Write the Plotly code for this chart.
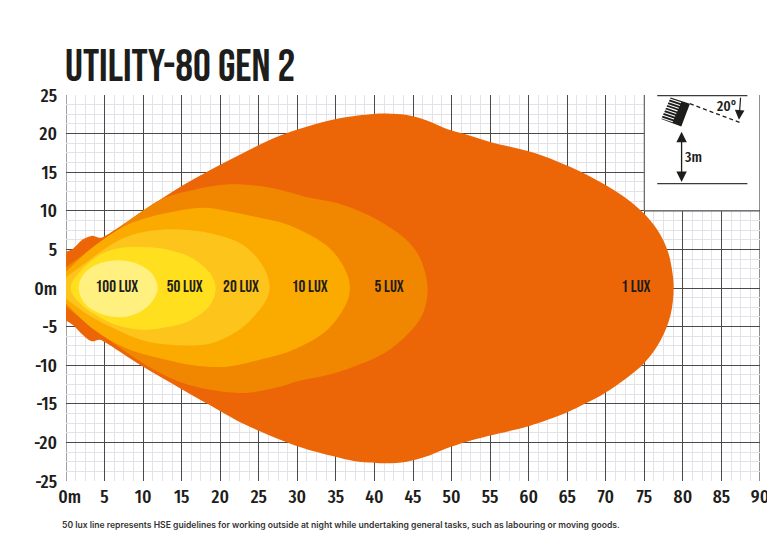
import plotly.graph_objects as go

TITLE = "UTILITY-80 GEN 2"
NOTE = "50 lux line represents HSE guidelines for working outside at night while undertaking general tasks, such as labouring or moving goods."

x_ticks = list(range(0, 95, 5))
x_labels = ["\u00a0\u00a00m"] + [str(v) for v in x_ticks[1:]]
y_ticks = [25, 20, 15, 10, 5, 0, -5, -10, -15, -20, -25]
y_labels = ["25", "20", "15", "10", "5", "0m", "-5", "-10", "-15", "-20", "-25"]

lux1_x = [0, .9, 2.2, 3.3, 4.4, 5, 10, 15, 18.7, 22.6, 26.9, 31.2, 35.5, 39.9, 41.6, 44.2, 46.8, 49.4, 51.5, 55, 60, 63.7, 67.1, 70.2, 72.8, 74.9, 76.7, 78, 78.6, 78.8,
          78.4, 77.1, 74.9, 70.2, 67.1, 65, 60, 55, 51.3, 48.5, 46.8, 44.2, 41.2, 37.3, 35.1, 30, 25, 22.6, 18.7, 15, 10, 5, 4.4, 3.3, 2.2, .9, 0]
lux1_y = [4.7, 5.1, 6.3, 6.75, 6.5, 6.7, 10, 13.2, 15.3, 17.3, 19.4, 20.9, 22, 22.55, 22.6, 22.4, 21.7, 20.6, 20, 18.9, 17.7, 16.4, 14.9, 13.2, 11.5, 9.7, 7.5, 4.9, 2.3, 0,
          -3.5, -6.8, -9.8, -13.4, -15.1, -16.1, -17.9, -19.1, -20.1, -21.1, -21.8, -22.5, -22.7, -22.4, -21.9, -20.5, -18.5, -17.4, -15.2, -13.1, -10.2, -7, -6.7, -6.9, -6.1, -4.8, -4.2]

lux5_x = [0, 5, 12.2, 16.5, 20.8, 25.1, 28.2, 31.2, 35.1, 38.6, 41.6, 44.2, 45.9, 46.9,
          46.2, 44.2, 41.2, 37.3, 33.8, 30.3, 26.9, 22.6, 16.5, 12.2, 5, 0]
lux5_y = [2.7, 6.3, 11.4, 12.7, 13.4, 13.2, 12.6, 11.8, 11, 9.7, 8.1, 6.2, 3.9, 0,
          -3.5, -6.1, -8.5, -10.2, -11.3, -12, -13, -13.6, -12.7, -11, -6.3, -2.4]

lux10_x = [0, 3.5, 7.8, 13, 18, 21.7, 25.1, 28.2, 31.2, 33.8, 35.5, 36.6, 36.8,
           36.6, 35.5, 33.8, 31.2, 28.2, 25.1, 20.8, 16.5, 12.2, 7.8, 3.5, 0]
lux10_y = [2.1, 5.3, 8.1, 9.7, 10.4, 9.8, 9.1, 8.4, 7.1, 5.5, 3.6, 1.4, 0,
           -1.4, -3.5, -5.5, -7.2, -8.5, -9.3, -10.2, -10, -9.1, -7.8, -5.3, -2.0]

lux20_x = [0, 2.6, 5.7, 7.8, 10.9, 14.3, 18.7, 22.6, 24.7, 26, 26.4,
           26, 24.7, 22.6, 18.7, 14.3, 10, 5.7, 2.6, 0]
lux20_y = [1.4, 3.3, 5.5, 6.6, 7.4, 7.6, 7.1, 5.8, 4, 1.9, 0,
           -1.5, -3.3, -5.3, -7.2, -7.4, -6.8, -5, -3.3, -1.4]

lux50_x = [.6, 1.8, 4.4, 6.5, 10, 13.5, 16.5, 18.7, 19.4, 18.7, 16.1, 13, 10, 6.5, 3.9, 1.8, .6]
lux50_y = [0, 2.1, 4.3, 5.1, 5.3, 4.9, 3.8, 1.9, 0, -2.2, -4.2, -5.1, -5.4, -4.8, -3.5, -2, 0]

lux100_x = [1.65, 2.2, 3.9, 6.5, 9.1, 11.1, 11.9, 11.3, 9.6, 7, 4.4, 2.4, 1.65]
lux100_y = [0, 1.7, 3, 3.6, 3.2, 1.9, 0.1, -1.6, -3.1, -3.8, -3.3, -2, 0]

zone_names = ["1 LUX", "5 LUX", "10 LUX", "20 LUX", "50 LUX", "100 LUX"]
zone_label_x = [73.9, 41.9, 31.6, 22.7, 15.4, 6.6]
zone_label_y = [0, 0, 0, 0, 0, 0]
zone_colors = ["#EC6608", "#F18700", "#FBAB00", "#FDC41C", "#FFDF1E", "#FFF07F"]
zones = [(lux1_x, lux1_y), (lux5_x, lux5_y), (lux10_x, lux10_y),
         (lux20_x, lux20_y), (lux50_x, lux50_y), (lux100_x, lux100_y)]

CAPS = "Bebas Neue, Liberation Sans Narrow, DejaVu Sans Condensed, sans-serif"
NARROW = "Fira Sans Extra Condensed, Liberation Sans Narrow, DejaVu Sans Condensed, sans-serif"
DARK = "#1d1d1b"

fig = go.Figure()
for name, (zx, zy), col in zip(zone_names, zones, zone_colors):
    fig.add_trace(go.Scatter(x=zx, y=zy, mode="lines", fill="toself", fillcolor=col, name=name,
                             line=dict(color=col, width=0, shape="spline", smoothing=1.0),
                             hoverinfo="name", showlegend=False))
fig.add_trace(go.Scatter(x=zone_label_x, y=zone_label_y, mode="text", text=zone_names,
                         textfont=dict(family=CAPS, size=17, color=DARK),
                         textposition="middle center", showlegend=False, hoverinfo="skip"))

# page has an 8px body margin, so the figure is 8px smaller and everything is offset by it
OFF = 8
W, H = 775 - OFF, 552 - OFF
PL, PR, PT, PB = 66.3, 759.7, 95, 480.8

def X(px): return (px - 66.3) / 7.7
def Y(py): return (287.8 - py) / 7.7

shapes = [
    dict(type="line", x0=0, x1=0, y0=-25, y1=25, line=dict(color="#666", width=1.2), layer="below"),
    dict(type="line", x0=90, x1=90, y0=-25, y1=25, line=dict(color="#444", width=1.2), layer="below"),
    dict(type="rect", x0=75, x1=90, y0=10, y1=25, fillcolor="white", line=dict(width=0), layer="above"),
    dict(type="line", x0=75, x1=75, y0=10, y1=25, line=dict(color="#666", width=1.2), layer="above"),
    dict(type="line", x0=75, x1=90, y0=10, y1=10, line=dict(color="#555", width=1.2), layer="above"),
    dict(type="line", x0=90, x1=90, y0=10, y1=25, line=dict(color="#444", width=1.2), layer="above"),
    dict(type="line", x0=X(656.7), x1=X(746.7), y0=Y(96), y1=Y(96), line=dict(color="#3a3a3a", width=1.3), layer="above"),
    dict(type="line", x0=X(656.7), x1=X(746.7), y0=Y(183.7), y1=Y(183.7), line=dict(color="#3a3a3a", width=1.3), layer="above"),
    dict(type="line", x0=X(689.3), x1=X(740.7), y0=Y(104), y1=Y(123.3), line=dict(color=DARK, width=1.3, dash="4px,3px"), layer="above"),
    dict(type="path", layer="above", fillcolor=DARK, line=dict(width=0),
         path=f"M {X(670)} {Y(97.7)} L {X(689.3)} {Y(104)} L {X(680.7)} {Y(126.7)} L {X(660.7)} {Y(119.3)} Z"),
]
for i in range(8):
    t = (i + 0.5) / 8
    ax, ay = 670 + (660.7 - 670) * t, 97.7 + (119.3 - 97.7) * t
    shapes.append(dict(type="line", x0=X(ax - 1), y0=Y(ay), x1=X(ax + 11), y1=Y(ay + 4), layer="above",
                       line=dict(color="white", width=1.1)))

annotations = [
    dict(x=X(726), y=Y(106), text="20°", showarrow=False, font=dict(family=NARROW, size=15, color=DARK, weight=500)),
    dict(x=X(692.3), y=Y(156.7), text="3m", showarrow=False, font=dict(family=NARROW, size=15, color=DARK, weight=500)),
    dict(x=X(681), y=Y(132), ax=X(681), ay=Y(183.5), xref="x", yref="y", axref="x", ayref="y", text="", showarrow=True,
         arrowhead=2, arrowside="end+start", arrowsize=1.6, arrowwidth=1.3, arrowcolor=DARK),
    dict(x=X(738.3), y=Y(120), ax=X(740), ay=Y(96.5), xref="x", yref="y", axref="x", ayref="y", text="", showarrow=True,
         arrowhead=2, arrowsize=1.6, arrowwidth=1.2, arrowcolor=DARK),
    dict(x=(60 - PL) / (PR - PL), y=(PB - 525) / (PB - PT), xref="paper", yref="paper", xanchor="left", yanchor="middle",
         text=NOTE, showarrow=False, font=dict(family="Inter", size=8.6, color="#333333", weight=600)),
]

axis_common = dict(showgrid=True, gridcolor="#4a4a4a", gridwidth=1.1, zeroline=False, showline=False, automargin=False,
                   ticks="", tickmode="array", fixedrange=True,
                   tickfont=dict(family=NARROW, size=19, color=DARK, weight=500),
                   minor=dict(showgrid=True, tickmode="linear", dtick=1.25, tick0=0, gridcolor="#e2e2e8", gridwidth=1, ticks=""))

fig.update_layout(
    width=W, height=H, autosize=False,
    paper_bgcolor="white", plot_bgcolor="white",
    margin=dict(l=PL - OFF, r=775 - PR, t=PT - OFF, b=552 - PB, pad=0),
    title=dict(text=TITLE, x=(65 - OFF) / W, xref="container", xanchor="left", y=1 - (65 - OFF) / H, yref="container", yanchor="middle",
               font=dict(family=CAPS, size=44.5, color=DARK)),
    xaxis=dict(range=[0, 90], tickvals=x_ticks, ticktext=x_labels, ticklabelstandoff=2, **axis_common),
    yaxis=dict(range=[-25, 25], tickvals=y_ticks, ticktext=y_labels, ticklabelstandoff=8, **axis_common),
    shapes=shapes, annotations=annotations,
)
fig.write_html("out.html")
